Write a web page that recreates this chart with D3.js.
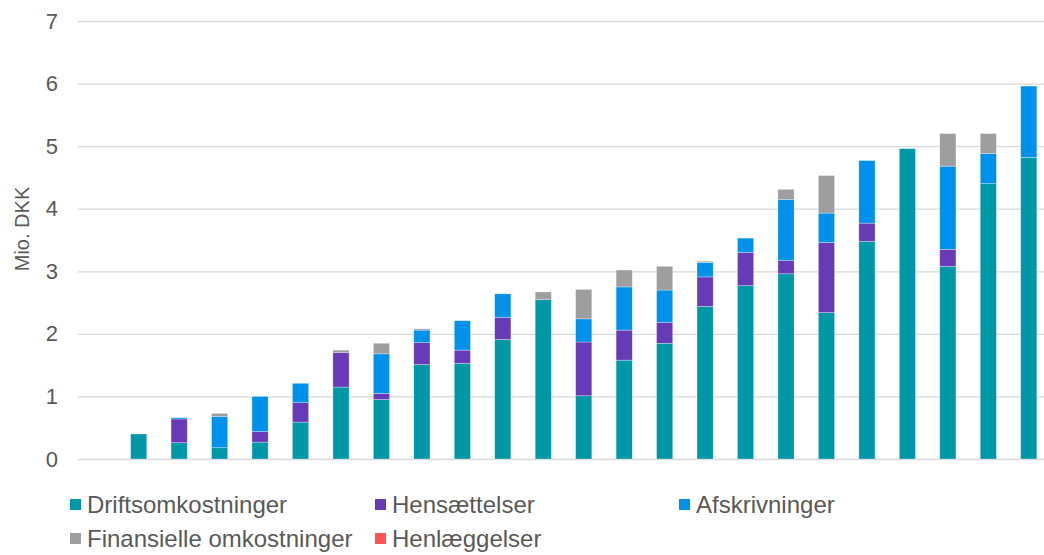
<!DOCTYPE html>
<html>
<head>
    <meta charset="utf-8">
    <script src="https://d3js.org/d3.v7.min.js"></script>
    <style>
        body { margin: 0; background: #fff; font-family: "Liberation Sans", Arial, sans-serif; }
    </style>
</head>
<body>
    <div id="chart"></div>
    <script>
        // data (Mio. DKK)
        const categories = d3.range(1, 25).map(String);
        const drift  = [0, 0.40, 0.26, 0.18, 0.27, 0.59, 1.15, 0.95, 1.51, 1.53, 1.91, 2.55, 1.01, 1.58, 1.85, 2.44, 2.77, 2.96, 2.34, 3.48, 4.96, 3.08, 4.40, 4.82];
        const hens   = [0, 0, 0.38, 0, 0.17, 0.31, 0.55, 0.10, 0.35, 0.21, 0.35, 0, 0.86, 0.48, 0.33, 0.47, 0.53, 0.21, 1.12, 0.29, 0, 0.27, 0, 0];
        const afskr  = [0, 0, 0.02, 0.50, 0.56, 0.31, 0, 0.63, 0.20, 0.47, 0.38, 0, 0.37, 0.69, 0.52, 0.23, 0.23, 0.98, 0.47, 1.00, 0, 1.33, 0.48, 1.14];
        const fin    = [0, 0, 0, 0.05, 0, 0, 0.04, 0.17, 0.02, 0, 0, 0.12, 0.47, 0.27, 0.38, 0.02, 0, 0.16, 0.60, 0, 0, 0.52, 0.32, 0];
        const henl   = [0, 0, 0, 0, 0, 0, 0, 0, 0, 0, 0, 0, 0, 0, 0, 0, 0, 0, 0, 0, 0, 0, 0, 0];
        const seriesNames = ["Driftsomkostninger", "Hensættelser", "Afskrivninger", "Finansielle omkostninger", "Henlæggelser"];
        const seriesColors = ["#0097A7", "#673AB7", "#0091EA", "#9E9E9E", "#FF5252"];
        const yTicks = [0, 1, 2, 3, 4, 5, 6, 7];

        const width = 1044, height = 555;
        const keys = ["d", "h", "a", "f", "l"];
        const table = categories.map((c, i) => ({ cat: c, d: drift[i], h: hens[i], a: afskr[i], f: fin[i], l: henl[i] }));

        const svg = d3.select("#chart").append("svg")
            .attr("width", width)
            .attr("height", height);

        const x = d3.scaleBand()
            .domain(categories)
            .range([78, 1049])
            .paddingInner(0.6)
            .paddingOuter(0.3);
        const y = d3.scaleLinear()
            .domain([0, 7])
            .range([459, 21]);

        // gridlines + tick labels
        const yAxis = svg.append("g")
            .attr("transform", "translate(78,0)")
            .call(d3.axisLeft(y).tickValues(yTicks).tickSize(-(width - 78)).tickPadding(20).tickFormat(d3.format("d")));
        yAxis.select(".domain").remove();
        yAxis.selectAll(".tick line").attr("stroke", "#d9d9d9").attr("stroke-width", 1.3);
        yAxis.selectAll(".tick text")
            .attr("fill", "#595959")
            .style("font-family", "'Liberation Sans', Arial, sans-serif")
            .style("font-size", "22px");

        svg.append("text")
            .attr("transform", "translate(29,229) rotate(-90)")
            .attr("text-anchor", "middle")
            .attr("fill", "#595959")
            .style("font-size", "20px")
            .text("Mio. DKK");

        const stacked = d3.stack().keys(keys)(table);

        svg.append("g").selectAll("g")
            .data(stacked)
            .join("g")
            .attr("fill", (d, i) => seriesColors[i])
            .selectAll("rect")
            .data(d => d)
            .join("rect")
            .attr("x", d => x(d.data.cat))
            .attr("width", x.bandwidth())
            .attr("y", d => y(d[1]))
            .attr("height", d => y(d[0]) - y(d[1]))
            .attr("stroke", "#ffffff")
            .attr("stroke-opacity", 0.5)
            .attr("stroke-width", 0.6);

        // legend
        const legendPos = [[70, 513], [375, 513], [679, 513], [70, 547], [375, 547]];
        const legend = svg.append("g").selectAll("g")
            .data(seriesNames)
            .join("g")
            .attr("transform", (d, i) => "translate(" + legendPos[i][0] + "," + legendPos[i][1] + ")");
        legend.append("rect")
            .attr("x", 0)
            .attr("y", -14)
            .attr("width", 11)
            .attr("height", 11)
            .attr("fill", (d, i) => seriesColors[i]);
        legend.append("text")
            .attr("x", 17)
            .attr("y", 0)
            .attr("fill", "#595959")
            .style("font-size", "24px")
            .text(d => d);
    </script>
</body>
</html>
